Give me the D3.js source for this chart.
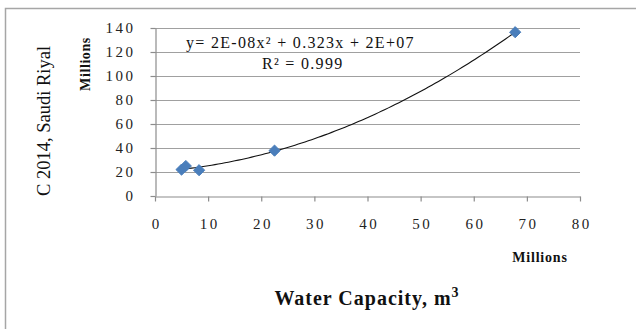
<!DOCTYPE html>
<html><head><meta charset="utf-8">
<script src="https://cdn.jsdelivr.net/npm/d3@7"></script>
<style>body{margin:0;background:#fff}svg{display:block}</style>
</head><body>
<script>
// Data (millions)
const waterCapacity = [5.0, 5.8, 8.3, 22.5, 67.8];
const cost2014 = [22, 25, 21.5, 37.8, 136.5];
const xTicks = [0,10,20,30,40,50,60,70,80];
const yTicks = [0,20,40,60,80,100,120,140];
const equationText = "y= 2E-08x² + 0.323x + 2E+07";
const r2Text = "R² = 0.999";

const W = 636, H = 329;
const svg = d3.select("body").append("svg").attr("width", W).attr("height", H);
svg.append("rect").attr("x",5.5).attr("y",8.5).attr("width",W+10).attr("height",H+10)
  .attr("fill","#fff").attr("stroke","#a6a6a6").attr("stroke-width",1.5);

const x = d3.scaleLinear().domain([0,80]).range([155,580]);
const y = d3.scaleLinear().domain([0,140]).range([196,28]);

// gridlines
svg.append("g").selectAll("line").data(yTicks.filter(d=>d>0)).join("line")
  .attr("x1",x(0)).attr("x2",x(80)).attr("y1",d=>y(d)+0.5).attr("y2",d=>y(d)+0.5)
  .attr("stroke","#a0a0a0").attr("stroke-width",1.2);

const font = "'Liberation Serif', serif";
const xAxis = svg.append("g").attr("transform",`translate(0,${y(0)+0.5})`)
  .call(d3.axisBottom(x).tickValues(xTicks).tickSize(5).tickPadding(17).tickSizeOuter(0));
const yAxis = svg.append("g").attr("transform",`translate(${x(0)+0.5},0)`)
  .call(d3.axisLeft(y).tickValues(yTicks).tickSize(5).tickPadding(15).tickSizeOuter(0));
[xAxis,yAxis].forEach(a=>{
  a.select(".domain").attr("stroke","#8c8c8c").attr("stroke-width",1.2);
  a.selectAll(".tick line").attr("stroke","#8c8c8c").attr("stroke-width",1.2);
  a.selectAll("text").attr("font-family",font).attr("font-size",15).attr("fill","#222")
   .attr("letter-spacing","2.5px");
});
xAxis.selectAll("text").attr("dx","1.2px");

// quadratic least-squares trendline computed from data
function quadFit(xs, ys){
  const n = xs.length; let S=[0,0,0,0,0], T=[0,0,0];
  for(let i=0;i<n;i++){ let p=1; for(let k=0;k<5;k++){S[k]+=p; if(k<3) T[k]+=p*ys[i]; p*=xs[i];} }
  const A=[[S[0],S[1],S[2],T[0]],[S[1],S[2],S[3],T[1]],[S[2],S[3],S[4],T[2]]];
  for(let i=0;i<3;i++){ for(let j=i+1;j<3;j++){ const f=A[j][i]/A[i][i]; for(let k=i;k<4;k++) A[j][k]-=f*A[i][k]; } }
  const c=[0,0,0];
  for(let i=2;i>=0;i--){ let s=A[i][3]; for(let k=i+1;k<3;k++) s-=A[i][k]*c[k]; c[i]=s/A[i][i]; }
  return c;
}
const c = quadFit(waterCapacity, cost2014);
const xmin = d3.min(waterCapacity), xmax = d3.max(waterCapacity);
const trend = d3.range(0,101).map(i=>{ const xv = xmin + (xmax-xmin)*i/100; return [xv, c[0]+c[1]*xv+c[2]*xv*xv]; });
svg.append("path").datum(trend)
  .attr("d", d3.line().x(d=>x(d[0])).y(d=>y(d[1])))
  .attr("fill","none").attr("stroke","#111").attr("stroke-width",1.1);

// markers
svg.append("g").selectAll("path").data(waterCapacity.map((v,i)=>[v,cost2014[i]])).join("path")
  .attr("transform",d=>`translate(${x(d[0])},${y(d[1])})`)
  .attr("d", d3.symbol().type(d3.symbolDiamond2).size(80))
  .attr("fill","#4a7ebb").attr("stroke","#4a7ebb").attr("stroke-width",1);

// equation text
svg.append("text").attr("x",186).attr("y",48).attr("font-family",font).attr("font-size",16)
  .attr("letter-spacing","1.3px").attr("fill","#111").text(equationText);
svg.append("text").attr("x",262).attr("y",69).attr("font-family",font).attr("font-size",16)
  .attr("letter-spacing","1.3px").attr("fill","#111").text(r2Text);

// axis titles
svg.append("text").attr("transform","translate(50,121) rotate(-90)").attr("text-anchor","middle")
  .attr("font-family",font).attr("font-size",18.5).attr("fill","#111").text("C 2014, Saudi Riyal");
svg.append("text").attr("transform","translate(90,64) rotate(-90)").attr("text-anchor","middle")
  .attr("font-family",font).attr("font-size",14).attr("font-weight","bold").attr("letter-spacing","0.6px")
  .attr("fill","#111").text("Millions");
svg.append("text").attr("x",540).attr("y",262).attr("text-anchor","middle")
  .attr("font-family",font).attr("font-size",14).attr("font-weight","bold").attr("letter-spacing","0.8px")
  .attr("fill","#111").text("Millions");
const xt = svg.append("text").attr("x",367).attr("y",305).attr("text-anchor","middle")
  .attr("font-family",font).attr("font-size",20).attr("font-weight","bold").attr("letter-spacing","1px")
  .attr("fill","#111");
xt.append("tspan").text("Water Capacity, m");
xt.append("tspan").attr("dy",-8).attr("font-size",14).text("3");
</script>
</body></html>
